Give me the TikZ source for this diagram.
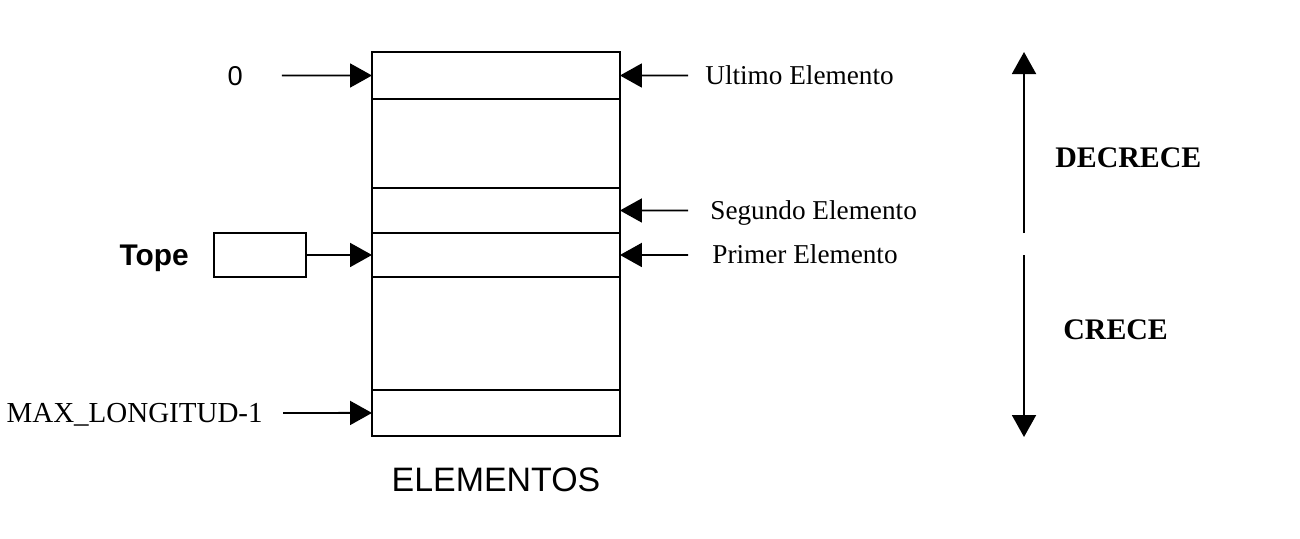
\documentclass[tikz,border=0pt]{standalone}
\usepackage{fontspec}
\setmainfont{Liberation Serif}
\newfontfamily\sansfam{Liberation Sans}
\usetikzlibrary{arrows.meta, positioning}

\begin{document}
\begin{tikzpicture}[
    x=0.02cm, y=-0.02cm,
    cell/.style={draw, line width=1.1pt, minimum width=4.96cm, inner sep=0pt, outer sep=0pt},
    lbl/.style={inner sep=0pt, text height=10pt, text depth=0pt, font=\fontsize{15.5}{18}\selectfont},
    slbl/.style={inner sep=0pt, text height=11pt, text depth=0pt, font=\sansfam\fontsize{15.5}{18}\selectfont},
    dir/.style={inner sep=0pt, text height=11.3pt, text depth=0pt, font=\bfseries\fontsize{17}{20}\selectfont},
    arrow/.style={-{Triangle[length=0.44cm, width=0.48cm]}, line width=1.1pt},
    node distance=0pt
]
    \useasboundingbox (0,0) rectangle (1300,538);

    \node[cell, minimum height=0.94cm, anchor=north west] (c1) at (372,52) {};
    \node[cell, minimum height=1.78cm, below=of c1] (c2) {};
    \node[cell, minimum height=0.90cm, below=of c2] (c3) {};
    \node[cell, minimum height=0.88cm, below=of c3] (c4) {};
    \node[cell, minimum height=2.26cm, below=of c4] (c5) {};
    \node[cell, minimum height=0.92cm, below=of c5] (c6) {};
    \node[inner sep=0pt, font=\sansfam\fontsize{19.3}{22}\selectfont, below=0.64cm of c6] (elem) {ELEMENTOS};

    \node[slbl, anchor=east] (zero) at (243,75.5) {0};
    \node[draw, line width=1.1pt, minimum width=1.84cm, minimum height=0.88cm,
          inner sep=0pt, outer sep=0pt] (tbox) at (260,255) {};
    \node[slbl, text height=12pt, font=\sansfam\bfseries\fontsize{17}{20}\selectfont, left=0.5cm of tbox] (tope) {Tope};
    \node[lbl, text height=11pt, font=\fontsize{16.5}{19}\selectfont, anchor=east] (maxl) at (263,413) {MAX\_LONGITUD-1};

    \node[lbl, anchor=west] (ult) at (705,75.5) {Ultimo Elemento};
    \node[lbl, anchor=west] (seg) at (710,210.5) {Segundo Elemento};
    \node[lbl, anchor=west] (prim) at (712,255) {Primer Elemento};

    \draw[arrow] ([xshift=0.78cm]zero.east) -- (c1.west);
    \draw[arrow] (tbox.east) -- (c4.west);
    \draw[arrow] ([xshift=0.4cm]maxl.east) -- (c6.west);
    \draw[arrow] ([xshift=-0.34cm]ult.west) -- (c1.east);
    \draw[arrow] ([xshift=-0.44cm]seg.west) -- (c3.east);
    \draw[arrow] ([xshift=-0.48cm]prim.west) -- (c4.east);

    \coordinate (decbot) at (1024,233);
    \coordinate (dectop) at (1024,52);
    \coordinate (crtop) at (1024,255);
    \coordinate (crbot) at (1024,437);
    \draw[arrow] (decbot) -- (dectop);
    \draw[arrow] (crtop) -- (crbot);
    \node[dir, anchor=west] (dec) at (1055,158) {DECRECE};
    \node[dir, anchor=west] (cre) at (1063,330) {CRECE};
\end{tikzpicture}
\end{document}
